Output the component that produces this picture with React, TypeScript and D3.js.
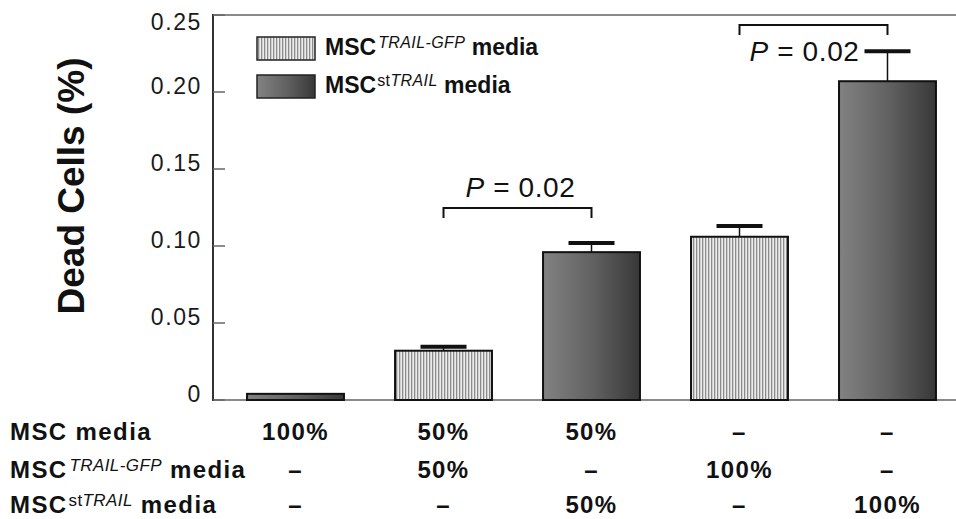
import React, { useEffect, useRef } from 'react';
import * as d3 from 'd3';

// groups, in order along the x axis
const groups = ['MSC 100%', 'TRAIL-GFP 50%', 'stTRAIL 50%', 'TRAIL-GFP 100%', 'stTRAIL 100%'];
const deadCells = [0.004, 0.032, 0.096, 0.106, 0.207];
const errorUp = [0, 0.0025, 0.006, 0.007, 0.0195];
const fillKind = ['st', 'gfp', 'st', 'gfp', 'st'];

// table under the chart
const mscMedia = ['100%', '50%', '50%', '–', '–'];
const gfpMedia = ['–', '50%', '–', '100%', '–'];
const stMedia = ['–', '–', '50%', '–', '100%'];

const yTicks = [0, 0.05, 0.1, 0.15, 0.2, 0.25];
const yTickLabels = ['0', '0.05', '0.10', '0.15', '0.20', '0.25'];

// significance brackets
const compareFrom = [1, 3];
const compareTo = [2, 4];
const compareLevel = [0.1247, 0.2435];
const compareP = ['0.02', '0.02'];

const FONT = '"Liberation Sans", Arial, Helvetica, sans-serif';

const App = () => {
  const ref = useRef<SVGSVGElement>(null);

  useEffect(() => {
    const width = 956;
    const height = 519;
    const left = 213;
    const top = 15;
    const bottom = 400;

    const svg = d3.select(ref.current)
      .attr('width', width)
      .attr('height', height);
    svg.selectAll('*').remove();

    const x = d3.scaleBand<number>()
      .domain(groups.map((_, i) => i))
      .range([left, 970])
      .paddingInner(0.345)
      .paddingOuter(0.23);
    const cx = (i: number) => (x(i) as number) + x.bandwidth() / 2;

    const y = d3.scaleLinear()
      .domain([0, 0.25])
      .range([bottom, top]);

    // fills
    const defs = svg.append('defs');
    const grad = defs.append('linearGradient')
      .attr('id', 'stGrad')
      .attr('x1', '0%').attr('x2', '100%')
      .attr('y1', '0%').attr('y2', '0%');
    grad.append('stop').attr('offset', '0%').attr('stop-color', '#828282');
    grad.append('stop').attr('offset', '50%').attr('stop-color', '#626262');
    grad.append('stop').attr('offset', '100%').attr('stop-color', '#383838');

    const pat = defs.append('pattern')
      .attr('id', 'stripes')
      .attr('patternUnits', 'userSpaceOnUse')
      .attr('width', 3).attr('height', 10);
    pat.append('rect').attr('width', 3).attr('height', 10).attr('fill', '#ececec');
    pat.append('rect').attr('x', 0).attr('width', 1.3).attr('height', 10).attr('fill', '#8c8c8c');

    const fillFor = (k: string) => (k === 'st' ? 'url(#stGrad)' : 'url(#stripes)');

    // frame lines
    svg.append('line')
      .attr('x1', left).attr('x2', width).attr('y1', top).attr('y2', top)
      .attr('stroke', '#8a8a8a').attr('stroke-width', 2);
    svg.append('line')
      .attr('x1', left).attr('x2', width).attr('y1', bottom).attr('y2', bottom)
      .attr('stroke', '#8a8a8a').attr('stroke-width', 2);

    // y axis
    const yAxis = svg.append('g');
    yAxis.append('line')
      .attr('x1', left).attr('x2', left).attr('y1', top - 1).attr('y2', bottom + 1)
      .attr('stroke', '#333').attr('stroke-width', 2);
    yAxis.selectAll('line.tick')
      .data(yTicks)
      .enter().append('line')
      .attr('class', 'tick')
      .attr('x1', left).attr('x2', left + 12)
      .attr('y1', d => y(d)).attr('y2', d => y(d))
      .attr('stroke', '#666').attr('stroke-width', 1.5);
    yAxis.selectAll('text')
      .data(yTicks)
      .enter().append('text')
      .attr('x', 202)
      .attr('y', d => (d === 0.25 ? y(d) + 15 : y(d) + 1.5))
      .attr('text-anchor', 'end')
      .attr('font-family', FONT)
      .attr('font-size', 23)
      .attr('letter-spacing', 1.6)
      .attr('fill', '#1a1a1a')
      .text((_, i) => yTickLabels[i]);

    svg.append('text')
      .attr('transform', 'translate(84,186) rotate(-90)')
      .attr('text-anchor', 'middle')
      .attr('font-family', FONT)
      .attr('font-size', 37)
      .attr('font-weight', 'bold')
      .attr('fill', '#111')
      .text('Dead Cells (%)');

    // bars
    svg.selectAll('rect.bar')
      .data(deadCells)
      .enter().append('rect')
      .attr('class', 'bar')
      .attr('x', (_, i) => x(i) as number)
      .attr('y', d => y(d))
      .attr('width', x.bandwidth())
      .attr('height', d => bottom - y(d))
      .attr('fill', (_, i) => fillFor(fillKind[i]))
      .attr('stroke', '#111')
      .attr('stroke-width', 2);

    // error bars (upper only)
    const err = svg.append('g');
    deadCells.forEach((v, i) => {
      if (!errorUp[i]) return;
      const yt = y(v + errorUp[i]);
      err.append('line')
        .attr('x1', cx(i)).attr('x2', cx(i))
        .attr('y1', y(v)).attr('y2', yt)
        .attr('stroke', '#111').attr('stroke-width', 1.5);
      err.append('line')
        .attr('x1', cx(i) - 23).attr('x2', cx(i) + 23)
        .attr('y1', yt).attr('y2', yt)
        .attr('stroke', '#111').attr('stroke-width', 4);
    });

    // significance brackets
    compareFrom.forEach((a, k) => {
      const b = compareTo[k];
      const yb = y(compareLevel[k]);
      svg.append('path')
        .attr('d', `M${cx(a)},${yb + 10}V${yb}H${cx(b)}V${yb + 10}`)
        .attr('fill', 'none')
        .attr('stroke', '#111')
        .attr('stroke-width', 2);
      const above = k === 0;
      const t = svg.append('text')
        .attr('x', above ? (cx(a) + cx(b)) / 2 + 3 : cx(b) - 28)
        .attr('y', above ? yb - 11 : yb + 36)
        .attr('text-anchor', above ? 'middle' : 'end')
        .attr('font-family', FONT)
        .attr('font-size', 28)
        .attr('letter-spacing', 0.6)
        .attr('fill', '#111');
      t.append('tspan').attr('font-style', 'italic').text('P');
      t.append('tspan').text(` = ${compareP[k]}`);
    });

    // label with superscript pieces
    const richLabel = (
      g: d3.Selection<SVGGElement, unknown, null, undefined>,
      px: number, py: number, size: number, spacing: number, sup: 'gfp' | 'st' | null,
    ) => {
      const t = g.append('text')
        .attr('x', px).attr('y', py)
        .attr('font-family', FONT)
        .attr('font-size', size)
        .attr('font-weight', 'bold')
        .attr('letter-spacing', spacing)
        .attr('fill', '#111');
      t.append('tspan').text('MSC');
      const supSize = Math.round(size * 0.7);
      if (sup === 'gfp') {
        t.append('tspan')
          .attr('dx', 2).attr('dy', -7)
          .attr('font-size', supSize).attr('font-style', 'italic').attr('font-weight', 'normal')
          .attr('letter-spacing', 0.4)
          .text('TRAIL-GFP');
        t.append('tspan').attr('dy', 7).text(' media');
      } else if (sup === 'st') {
        t.append('tspan')
          .attr('dx', 1).attr('dy', -7)
          .attr('font-size', supSize).attr('font-weight', 'normal')
          .attr('letter-spacing', 0.4)
          .text('st');
        t.append('tspan')
          .attr('font-size', supSize).attr('font-style', 'italic').attr('font-weight', 'normal')
          .attr('letter-spacing', 0.4)
          .text('TRAIL');
        t.append('tspan').attr('dy', 7).text(' media');
      } else {
        t.append('tspan').text(' media');
      }
    };

    // legend
    const legend = svg.append('g');
    ['gfp', 'st'].forEach((k, i) => {
      legend.append('rect')
        .attr('x', 257).attr('y', 37 + i * 38)
        .attr('width', 58).attr('height', 23)
        .attr('fill', fillFor(k))
        .attr('stroke', '#222').attr('stroke-width', 1.5);
      richLabel(legend, 325, 55 + i * 38, 23, 0, k as 'gfp' | 'st');
    });

    // table
    const table = svg.append('g');
    const rows = [mscMedia, gfpMedia, stMedia];
    const rowY = [440, 478, 513];
    const rowSup: ('gfp' | 'st' | null)[] = [null, 'gfp', 'st'];
    rows.forEach((vals, r) => {
      richLabel(table, 10, rowY[r], 24, 1.4, rowSup[r]);
      table.selectAll(`text.v${r}`)
        .data(vals)
        .enter().append('text')
        .attr('class', `v${r}`)
        .attr('x', (_, i) => cx(i))
        .attr('y', rowY[r])
        .attr('text-anchor', 'middle')
        .attr('font-family', FONT)
        .attr('font-size', 24)
        .attr('font-weight', 'bold')
        .attr('letter-spacing', 1.4)
        .attr('fill', '#111')
        .text(d => d);
    });
  }, []);

  return (
    <svg ref={ref} style={{ position: 'absolute', left: 0, top: 0, background: '#fff' }}></svg>
  );
};

export default App;
